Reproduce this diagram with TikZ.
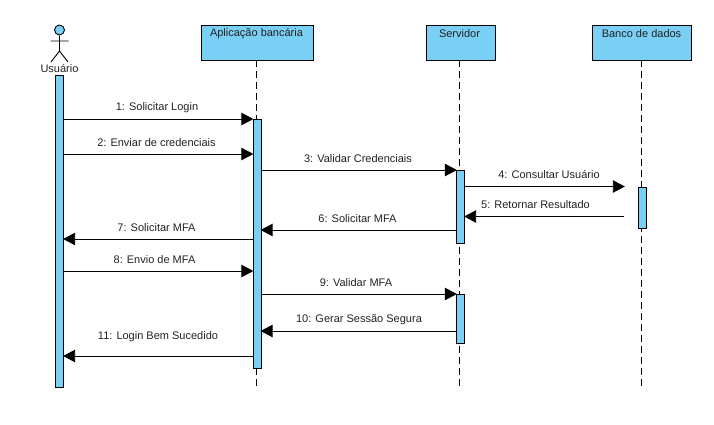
\documentclass[tikz,border=0pt]{standalone}
\usepackage{fontspec}
\setmainfont{Liberation Sans}
\usetikzlibrary{arrows.meta}
\definecolor{fillblue}{HTML}{7ACFF5}
\definecolor{txtc}{HTML}{222222}
\tikzset{
  every node/.style={font=\fontsize{11}{13}\selectfont, text=txtc},
  head/.style={draw=black, fill=fillblue, line width=0.9pt, minimum height=35pt, inner sep=0pt, anchor=north west},
  headlabel/.style={anchor=center, inner sep=0pt},
  bar/.style={draw=black, fill=fillblue, line width=0.9pt, minimum width=8pt, inner sep=0pt, anchor=north},
  life/.style={draw=black, line width=0.9pt, dash pattern=on 7pt off 4pt},
  msg/.style={draw=black, line width=0.9pt, -{Triangle[length=12pt,width=12.5pt]}, shorten >=-0.8pt},
  lbl/.style={inner sep=0pt, anchor=center}
}
\begin{document}
\begin{tikzpicture}[x=1pt,y=-1pt]
\useasboundingbox (0,0) rectangle (714,424);
% lifelines
\node[head, minimum width=112pt] (A) at (201,25) {};
\node[head, minimum width=69pt] (S) at (425.5,25) {};
\node[head, minimum width=99pt] (B) at (592,25) {};
\coordinate (Aend) at (256.5,387);
\coordinate (Send) at (459.5,387);
\coordinate (Bend) at (641.5,387);
\draw[life] (256.5,60) -- (Aend);
\draw[life] (459.5,60) -- (Send);
\draw[life] (641.5,60) -- (Bend);
\node[headlabel] (Alab) at (256.5,33.5) {Aplicação bancária};
\node[headlabel] (Slab) at (459.5,33.5) {Servidor};
\node[headlabel] (Blab) at (641.5,33.5) {Banco de dados};
% actor
\node[draw=black, fill=fillblue, circle, line width=0.9pt, minimum size=10pt, inner sep=0pt] (head) at (59.5,30) {};
\coordinate (hip) at (59.5,51);
\coordinate (armL) at (50.5,41);
\coordinate (armR) at (68.5,41);
\coordinate (legL) at (51,62);
\coordinate (legR) at (68,62);
\draw[line width=0.9pt] (head.south) -- (hip) (armL) -- (armR) (legL) -- (hip) -- (legR);
\node[lbl] (Ulab) at (59.5,68.5) {Usuário};
% activations
\node[bar, minimum height=312pt] (U) at (59.5,75) {};
\node[bar, minimum height=249pt] (A1) at (257,119) {};
\node[bar, minimum height=72.5pt] (S1) at (460.5,170) {};
\node[bar, minimum height=49pt] (S2) at (460.5,294) {};
\node[bar, minimum height=41.5pt] (B1) at (642.3,186.5) {};
\coordinate (B4) at (624,186.5);
\coordinate (B5) at (624,216.5);
% messages
\draw[msg] (U.east |- 0,119) -- (A1.west |- 0,119);
\draw[msg] (U.east |- 0,154) -- (A1.west |- 0,154);
\draw[msg] (A1.east |- 0,170) -- (S1.west |- 0,170);
\draw[msg] (S1.east |- 0,186.5) -- (B4);
\draw[msg] (B5) -- (S1.east |- 0,216.5);
\draw[msg] (S1.west |- 0,230) -- (A1.east |- 0,230);
\draw[msg] (A1.west |- 0,239) -- (U.east |- 0,239);
\draw[msg] (U.east |- 0,271) -- (A1.west |- 0,271);
\draw[msg] (A1.east |- 0,294) -- (S2.west |- 0,294);
\draw[msg] (S2.west |- 0,331) -- (A1.east |- 0,331);
\draw[msg] (A1.west |- 0,356) -- (U.east |- 0,356);
% labels
\node[lbl] (m1) at (157,107.5) {1: Solicitar Login};
\node[lbl] (m2) at (156.5,142.5) {2: Enviar de credenciais};
\node[lbl] (m3) at (358,158.5) {3: Validar Credenciais};
\node[lbl] (m4) at (549,174.5) {4: Consultar Usuário};
\node[lbl] (m5) at (535.5,204.5) {5: Retornar Resultado};
\node[lbl] (m6) at (357.5,218.5) {6: Solicitar MFA};
\node[lbl] (m7) at (156.5,227.5) {7: Solicitar MFA};
\node[lbl] (m8) at (154.5,259.5) {8: Envio de MFA};
\node[lbl] (m9) at (356,282.5) {9: Validar MFA};
\node[lbl] (m10) at (359,319.5) {10: Gerar Sessão Segura};
\node[lbl] (m11) at (158,336.5) {11: Login Bem Sucedido};
\end{tikzpicture}
\end{document}
